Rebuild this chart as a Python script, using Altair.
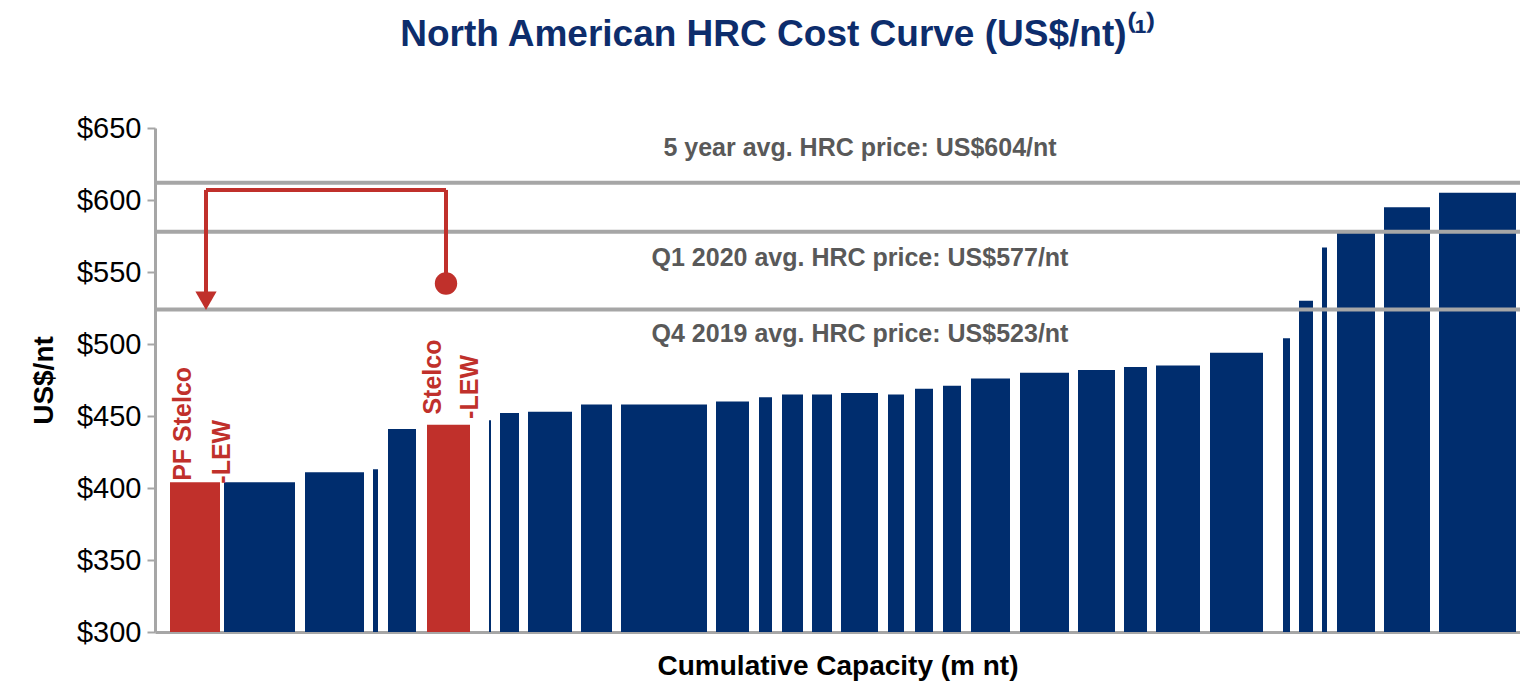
import altair as alt
import pandas as pd

x_start = [1.5,6.9,15.0,21.8,23.3,27.2,33.4,34.5,37.3,42.6,46.6,56.1,60.4,62.7,65.7,68.6,73.3,76.0,78.8,81.6,86.5,92.3,96.9,100.1,105.5,112.8,114.4,116.7,118.2,122.9,128.4]
x_end   = [6.5,14.0,20.9,22.3,26.1,31.5,33.6,36.4,41.7,45.7,55.2,59.4,61.7,64.8,67.7,72.3,74.9,77.8,80.6,85.5,91.4,96.0,99.2,104.5,110.8,113.5,115.8,117.2,122.0,127.5,136.1]
cost    = [404,404,411,413,441,444,447,452,453,458,458,460,463,465,465,466,465,469,471,476,480,482,484,485,494,504,530,567,578,595,605]
color   = ["red","navy","navy","navy","navy","red"] + ["navy"]*25

line_y = [612, 578, 524]
line_text = ["5 year avg. HRC price: US$604/nt", "Q1 2020 avg. HRC price: US$577/nt", "Q4 2019 avg. HRC price: US$523/nt"]
line_text_y = [636, 560, 507]

bars = pd.DataFrame({"x": x_start, "x2": x_end, "y": cost, "c": color})
xs = alt.Scale(domain=[0, 136.5], nice=False, zero=False)
ys = alt.Scale(domain=[300, 650], nice=False, zero=False)
NAVY = "#002d6e"; RED = "#c0302b"; GRAY = "#a6a6a6"

bar = alt.Chart(bars).mark_rect().encode(
    x=alt.X("x:Q", scale=xs, axis=alt.Axis(labels=False, ticks=False, grid=False, title="Cumulative Capacity (m nt)",
             titleFontSize=28, titleFont="Liberation Sans", titleColor="black", titleFontWeight="bold",
             domainColor=GRAY, domainWidth=3, titlePadding=20)),
    x2="x2:Q",
    y=alt.Y("y:Q", scale=ys, axis=alt.Axis(values=list(range(300, 651, 50)), format="$d", grid=False,
             title="US$/nt", titleFontSize=28, titleFont="Liberation Sans", titleColor="black", titleFontWeight="bold",
             labelFontSize=29, labelFont="Liberation Sans", labelColor="black", domainColor=GRAY, domainWidth=3,
             tickColor=GRAY, tickWidth=2, tickSize=8, labelPadding=6, titlePadding=18)),
    y2=alt.datum(300),
    color=alt.Color("c:N", scale=alt.Scale(domain=["navy", "red"], range=[NAVY, RED]), legend=None),
)

lines_df = pd.DataFrame({"y": line_y})
hl = alt.Chart(lines_df).mark_rule(color=GRAY, strokeWidth=4).encode(
    y=alt.Y("y:Q", scale=ys), x=alt.datum(0), x2=alt.datum(136.5))

lt_df = pd.DataFrame({"t": line_text, "y": line_text_y, "x": [70.5, 70.5, 70.5]})
lt = alt.Chart(lt_df).mark_text(fontSize=25, fontWeight="bold", color="#595959", font="Liberation Sans").encode(
    x=alt.X("x:Q", scale=xs), y=alt.Y("y:Q", scale=ys), text="t:N")

seg = pd.DataFrame({"x": [29.1, 5.1, 5.1], "x2": [29.1, 29.1, 5.1], "y": [542, 607, 607], "y2": [607, 607, 535]})
br = alt.Chart(seg).mark_rule(color=RED, strokeWidth=4).encode(
    x=alt.X("x:Q", scale=xs), x2="x2:Q", y=alt.Y("y:Q", scale=ys), y2="y2:Q")
dot = alt.Chart(pd.DataFrame({"x": [29.1], "y": [542]})).mark_point(filled=True, size=500, color=RED, opacity=1).encode(
    x=alt.X("x:Q", scale=xs), y=alt.Y("y:Q", scale=ys))
tri = alt.Chart(pd.DataFrame({"x": [5.1], "y": [530]})).mark_point(shape="triangle-down", filled=True, size=450, color=RED, opacity=1).encode(
    x=alt.X("x:Q", scale=xs), y=alt.Y("y:Q", scale=ys))

lab = pd.DataFrame({"t": ["PF Stelco", "-LEW", "Stelco", "-LEW"], "x": [2.8, 6.7, 27.8, 31.5], "y": [405, 403, 451, 448]})
labs = alt.Chart(lab).mark_text(angle=270, align="left", baseline="middle", fontSize=25, fontWeight="bold",
                                color=RED, font="Liberation Sans").encode(
    x=alt.X("x:Q", scale=xs), y=alt.Y("y:Q", scale=ys), text="t:N")

chart = alt.layer(bar, hl, lt, br, dot, tri, labs).properties(
    width=1365, height=504,
    title=alt.TitleParams("North American HRC Cost Curve (US$/nt)⁽¹⁾", fontSize=37, font="Liberation Sans",
                          fontWeight="bold", color="#0d2d6c", anchor="middle", offset=60, dx=-60),
    autosize=alt.AutoSizeParams(type="none"),
    padding={"left": 147, "top": 120, "right": 0, "bottom": 60},
).configure_view(stroke=None)

chart.save("out.html", embed_options={"renderer": "svg", "actions": False})
